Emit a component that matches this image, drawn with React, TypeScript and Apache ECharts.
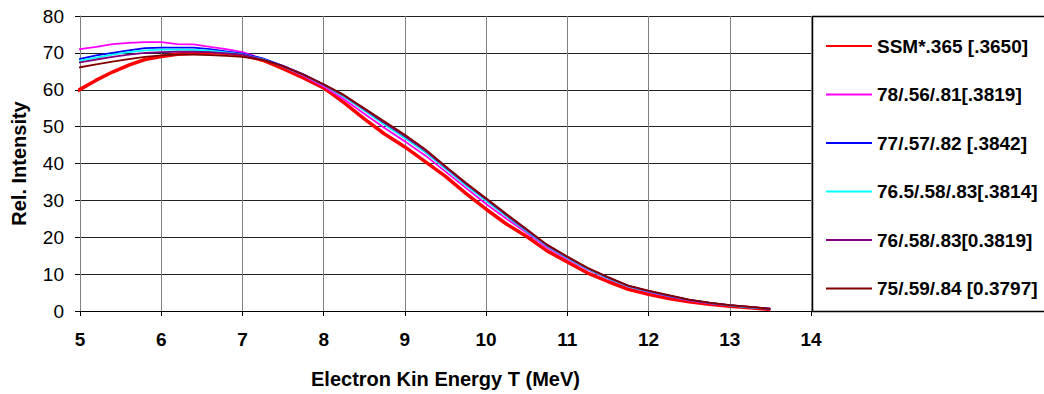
import React, { useEffect, useRef } from "react";
import * as echarts from "echarts";

// Electron kinetic energy T (MeV) sample points shared by all spectra
const energy = [
  4.9, 5.0, 5.2, 5.4, 5.6, 5.8, 6.0, 6.2, 6.4, 6.6, 6.8, 7.0, 7.25, 7.5, 7.75,
  8.0, 8.25, 8.5, 8.75, 9.0, 9.25, 9.5, 9.75, 10.0, 10.25, 10.5, 10.75, 11.0,
  11.25, 11.5, 11.75, 12.0, 12.25, 12.5, 12.75, 13.0, 13.25, 13.5,
];

const seriesNames = [
  "SSM*.365 [.3650]",
  "78/.56/.81[.3819]",
  "77/.57/.82 [.3842]",
  "76.5/.58/.83[.3814]",
  "76/.58/.83[0.3819]",
  "75/.59/.84 [0.3797]",
];

const ssm = [
  58.8, 60.1, 62.6, 64.8, 66.7, 68.2, 69.0, 69.6, 69.9, 70.0, 69.9, 69.4, 68.0,
  65.7, 63.2, 60.5, 56.5, 52.1, 48.0, 44.5, 40.5, 36.5, 31.9, 27.6, 23.6, 20.2,
  16.3, 13.3, 10.3, 8.0, 5.9, 4.5, 3.4, 2.5, 1.8, 1.3, 0.9, 0.4,
];

const s78 = [
  70.9, 71.0, 71.6, 72.4, 72.7, 72.9, 72.9, 72.4, 72.3, 71.6, 71.0, 70.2, 68.4,
  66.3, 63.8, 60.9, 57.4, 53.5, 49.6, 46.0, 42.2, 37.8, 33.4, 29.0, 25.0, 21.2,
  17.2, 14.1, 11.2, 8.8, 6.6, 5.2, 4.0, 2.9, 2.1, 1.5, 1.0, 0.6,
];

const s77 = [
  68.0, 68.4, 69.3, 70.0, 70.7, 71.3, 71.4, 71.4, 71.4, 71.0, 70.4, 69.8, 68.5,
  66.5, 64.2, 61.4, 58.2, 54.5, 50.7, 47.0, 43.2, 38.7, 34.2, 30.0, 25.8, 21.7,
  17.7, 14.5, 11.5, 9.0, 6.8, 5.3, 4.1, 3.0, 2.2, 1.5, 1.0, 0.6,
];

const s765 = [
  67.5, 67.9, 68.7, 69.5, 70.2, 70.7, 70.9, 70.9, 70.8, 70.6, 70.1, 69.6, 68.3,
  66.3, 64.0, 61.3, 58.1, 54.4, 50.5, 46.9, 43.1, 38.6, 34.1, 29.9, 25.7, 21.6,
  17.6, 14.4, 11.4, 8.9, 6.7, 5.3, 4.1, 3.0, 2.2, 1.5, 1.0, 0.6,
];

const s76 = [
  67.0, 67.4, 68.2, 68.9, 69.5, 70.0, 70.2, 70.3, 70.3, 70.2, 69.9, 69.5, 68.2,
  66.4, 64.1, 61.4, 58.4, 54.7, 51.0, 47.4, 43.5, 39.0, 34.5, 30.3, 26.0, 21.9,
  17.8, 14.6, 11.6, 9.1, 6.8, 5.4, 4.2, 3.0, 2.2, 1.6, 1.1, 0.6,
];

const s75 = [
  65.5, 66.1, 66.9, 67.6, 68.3, 68.9, 69.3, 69.5, 69.5, 69.4, 69.2, 68.9, 68.1,
  66.4, 64.1, 61.5, 58.6, 55.0, 51.4, 47.8, 43.9, 39.3, 34.8, 30.6, 26.3, 22.2,
  18.0, 14.8, 11.7, 9.2, 6.9, 5.5, 4.3, 3.1, 2.3, 1.6, 1.1, 0.6,
];

const seriesValues = [ssm, s78, s77, s765, s76, s75];
const seriesColors = ["#ff0000", "#ff00ff", "#0000ff", "#00ffff", "#800080", "#800000"];
const seriesWidths = [3.5, 1.8, 1.8, 1.8, 1.8, 1.8];

const xTicks = { min: 5, max: 14, interval: 1 };
const yTicks = { min: 0, max: 80, interval: 10 };

const FONT = "'Liberation Sans', Arial, Helvetica, sans-serif";

export default function App() {
  const ref = useRef<HTMLDivElement>(null);

  useEffect(() => {
    if (!ref.current) return;
    const chart = echarts.init(ref.current, null, { renderer: "svg" });

    chart.setOption({
      animation: false,
      backgroundColor: "#ffffff",
      textStyle: { fontFamily: FONT },
      grid: { left: 80, right: 233, top: 16, bottom: 83, containLabel: false },
      xAxis: {
        type: "value",
        min: xTicks.min,
        max: xTicks.max,
        interval: xTicks.interval,
        name: "Electron Kin Energy T (MeV)",
        nameLocation: "middle",
        nameGap: 58,
        nameTextStyle: { fontSize: 20, fontWeight: "bold", color: "#000", fontFamily: FONT },
        axisLine: { show: true, onZero: false, lineStyle: { color: "#000", width: 1 } },
        axisTick: { show: true, inside: false, length: 5, lineStyle: { color: "#000" } },
        axisLabel: { fontSize: 19, fontWeight: "bold", color: "#000", margin: 19, fontFamily: FONT },
        splitLine: { show: true, lineStyle: { color: "#808080", width: 1 } },
      },
      yAxis: {
        type: "value",
        min: yTicks.min,
        max: yTicks.max,
        interval: yTicks.interval,
        name: "Rel. Intensity",
        nameLocation: "middle",
        nameGap: 51,
        nameTextStyle: { fontSize: 20, fontWeight: "bold", color: "#000", fontFamily: FONT },
        axisLine: { show: true, lineStyle: { color: "#808080", width: 1 } },
        axisTick: { show: true, inside: false, length: 5, lineStyle: { color: "#000" } },
        axisLabel: { fontSize: 19, fontWeight: "normal", color: "#000", margin: 16, fontFamily: FONT },
        splitLine: { show: true, lineStyle: { color: "#222", width: 1 } },
      },
      legend: {
        orient: "vertical",
        left: 820,
        top: 31,
        itemWidth: 46,
        itemHeight: 20,
        itemGap: 28.5,
        data: seriesNames,
        itemStyle: { opacity: 0 },
        textStyle: { fontSize: 19, fontWeight: "bold", color: "#000", lineHeight: 20, fontFamily: FONT },
      },
      graphic: [
        {
          // legend frame: open on the right, where it runs past the page edge
          type: "polyline",
          shape: {
            points: [
              [1060, 16.5],
              [812.5, 16.5],
              [812.5, 311.5],
              [1060, 311.5],
            ],
          },
          style: { fill: "none", stroke: "#000", lineWidth: 1.5 },
          silent: true,
        },
      ],
      series: seriesNames.map((name, i) => ({
        name,
        type: "line",
        clip: false,
        symbol: "none",
        showSymbol: false,
        smooth: false,
        color: seriesColors[i],
        lineStyle: { color: seriesColors[i], width: seriesWidths[i] },
        data: energy.map((t, k) => [t, seriesValues[i][k]]),
      })),
    });

    return () => chart.dispose();
  }, []);

  return (
    <div
      ref={ref}
      style={{ position: "absolute", left: 0, top: 0, width: 1044, height: 394, background: "#fff" }}
    />
  );
}
